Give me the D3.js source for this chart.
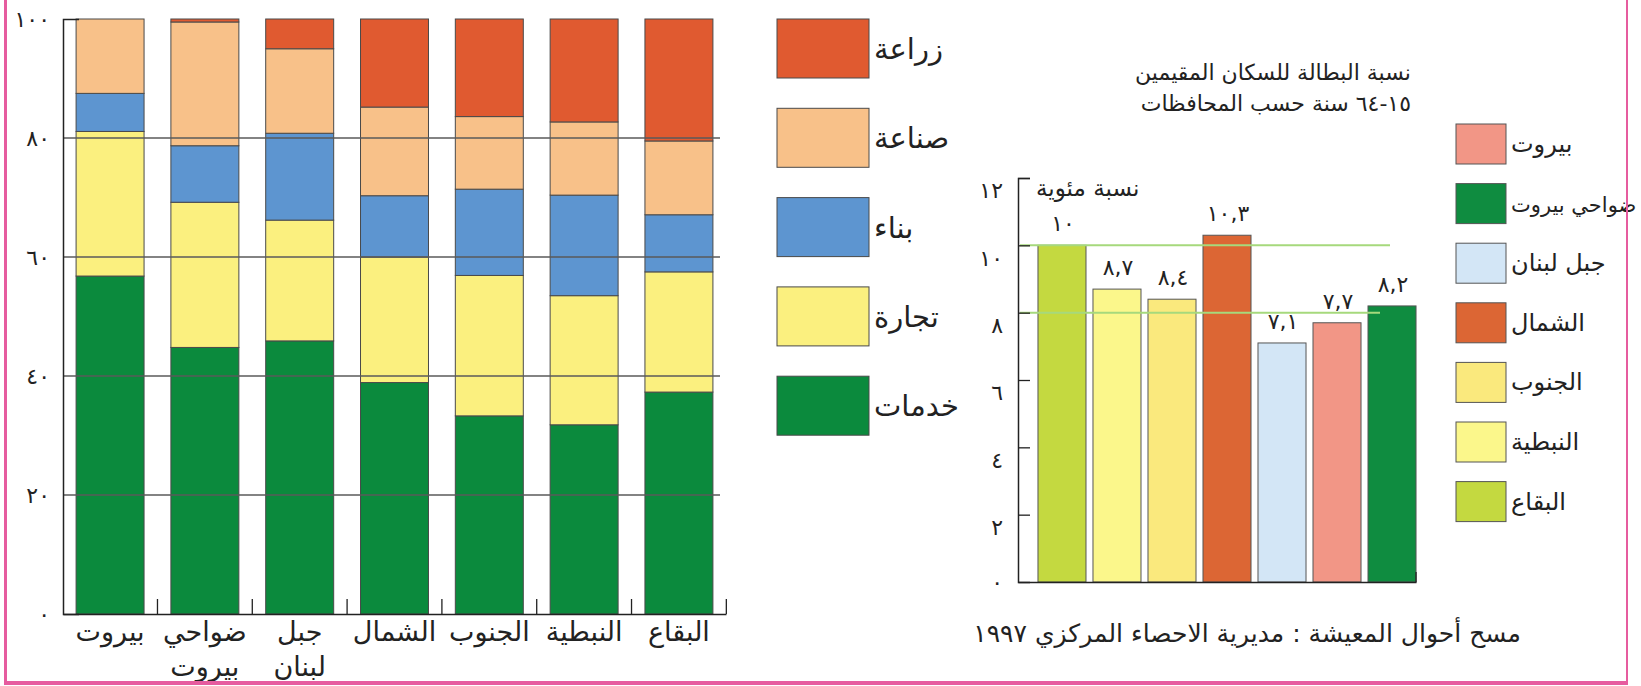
<!DOCTYPE html>
<html>
<head>
<meta charset="utf-8">
<script src="https://cdn.jsdelivr.net/npm/d3@7"></script>
<style>
  html, body { margin: 0; padding: 0; background: #ffffff; }
  svg { display: block; font-family: "DejaVu Sans", sans-serif; }
</style>
</head>
<body>
<svg id="chart" width="1641" height="686"></svg>
<script>
// ---------------- Data: left chart (employment by sector, %) ----------------
const regionsL = ["بيروت", "ضواحي بيروت", "جبل لبنان", "الشمال", "الجنوب", "النبطية", "البقاع"];
const regionLabelLines = [["بيروت"], ["ضواحي", "بيروت"], ["جبل", "لبنان"], ["الشمال"], ["الجنوب"], ["النبطية"], ["البقاع"]];
const sectorKeys = ["services", "commerce", "construction", "industry", "agriculture"];
const sectorNames = ["خدمات", "تجارة", "بناء", "صناعة", "زراعة"];
const services     = [56.8, 44.8, 45.9, 38.9, 33.3, 31.8, 37.3];
const commerce     = [24.3, 24.4, 20.3, 21.1, 23.6, 21.7, 20.2];
const construction = [6.4, 9.5, 14.6, 10.3, 14.5, 16.9, 9.6];
const industry     = [12.5, 20.8, 14.2, 14.9, 12.2, 12.3, 12.4];
const agriculture  = [0, 0.5, 5.0, 14.8, 16.4, 17.3, 20.5];
const leftTicks = [0, 20, 40, 60, 80, 100];
const legendOrderL = ["agriculture", "industry", "construction", "commerce", "services"];

// ---------------- Data: right chart (unemployment rate, %) ----------------
const regionsR = ["البقاع", "النبطية", "الجنوب", "الشمال", "جبل لبنان", "بيروت", "ضواحي بيروت"];
const unemployment = [10, 8.7, 8.4, 10.3, 7.1, 7.7, 8.2];
const rightTicks = [0, 2, 4, 6, 8, 10, 12];
const refLines = [10, 8];
const legendOrderR = ["بيروت", "ضواحي بيروت", "جبل لبنان", "الشمال", "الجنوب", "النبطية", "البقاع"];
const titleLines = ["نسبة البطالة للسكان المقيمين", "١٥-٦٤ سنة حسب المحافظات"];
const yUnitLabel = "نسبة مئوية";
const sourceText = "مسح أحوال المعيشة : مديرية الاحصاء المركزي ١٩٩٧";

// ---------------- Styles ----------------
const sectorColors = {
  services: "#0b8a3d", commerce: "#fbf07f", construction: "#5d95d0",
  industry: "#f8c189", agriculture: "#e05a30"
};
const regionColorsR = {
  "البقاع": "#c4d940", "النبطية": "#fbf78b", "الجنوب": "#fae97d", "الشمال": "#dc6634",
  "جبل لبنان": "#d3e6f6", "بيروت": "#f29686", "ضواحي بيروت": "#0f8c40"
};

const arabicDigits = "٠١٢٣٤٥٦٧٨٩";
const toArabic = v => String(v).replace(/[0-9]/g, d => arabicDigits[+d]).replace(".", ",");

const svg = d3.select("#chart");

// ================= LEFT CHART =================
const rows = regionsL.map((r, i) => ({
  region: r, services: services[i], commerce: commerce[i], construction: construction[i],
  industry: industry[i], agriculture: agriculture[i]
}));
const stack = d3.stack().keys(sectorKeys)(rows);

const yL = d3.scaleLinear().domain([0, 100]).range([614, 19]);
const xL = d3.scaleBand().domain(regionsL).range([63, 726]).paddingInner(0.283).paddingOuter(0.138);

const gL = svg.append("g");

gL.selectAll("g.layer").data(stack).join("g").attr("class", "layer")
  .attr("fill", d => sectorColors[d.key])
  .selectAll("rect").data(d => d).join("rect")
  .attr("x", d => xL(d.data.region))
  .attr("width", xL.bandwidth())
  .attr("y", d => yL(d[1]))
  .attr("height", d => Math.max(0, yL(d[0]) - yL(d[1])))
  .attr("stroke", "#4a4a4a").attr("stroke-width", 1);

// gridlines over bars
gL.selectAll("line.grid").data(leftTicks.filter(t => t > 0 && t < 100)).join("line")
  .attr("x1", 63).attr("x2", 720)
  .attr("y1", d => yL(d)).attr("y2", d => yL(d))
  .attr("stroke", "#5a5a5a").attr("stroke-width", 1.3);

// y axis
const yAxisL = d3.axisLeft(yL).tickValues(leftTicks).tickFormat(toArabic)
  .tickSizeInner(0).tickSizeOuter(-16).tickPadding(13);
const gyL = gL.append("g").attr("transform", "translate(63,0)").call(yAxisL);
gyL.select(".domain").attr("stroke", "#222").attr("stroke-width", 1.5);
gyL.selectAll("text").attr("font-size", 22).attr("fill", "#222")
  .attr("letter-spacing", 4)
  .attr("font-family", "DejaVu Sans, sans-serif");

// x axis
const xAxisL = d3.axisBottom(xL).tickFormat("").tickSize(0).tickSizeOuter(0);
const gxL = gL.append("g").attr("transform", "translate(0,614)").call(xAxisL);
gxL.select(".domain").attr("stroke", "#222").attr("stroke-width", 1.5);

// separator ticks between bars
const stepL = xL.step();
gL.selectAll("line.sep").data(regionsL).join("line")
  .attr("x1", d => xL(d) + xL.bandwidth() + (stepL - xL.bandwidth()) / 2)
  .attr("x2", d => xL(d) + xL.bandwidth() + (stepL - xL.bandwidth()) / 2)
  .attr("y1", 614).attr("y2", 599)
  .attr("stroke", "#222").attr("stroke-width", 1.3);

// category labels
regionsL.forEach((r, i) => {
  regionLabelLines[i].forEach((line, j) => {
    gL.append("text")
      .attr("x", xL(r) + xL.bandwidth() / 2)
      .attr("y", 641 + j * 35)
      .attr("text-anchor", "middle")
      .attr("font-size", 27).attr("fill", "#222")
      .text(line);
  });
});

// left legend
legendOrderL.forEach((k, i) => {
  const y0 = 19 + i * 89.3;
  svg.append("rect").attr("x", 777).attr("y", y0).attr("width", 92).attr("height", 59)
    .attr("fill", sectorColors[k]).attr("stroke", "#4a4a4a").attr("stroke-width", 1);
  svg.append("text").attr("x", 874).attr("y", y0 + 40).attr("text-anchor", "start")
    .attr("font-size", 29).attr("fill", "#222")
    .text(sectorNames[sectorKeys.indexOf(k)]);
});

// ================= RIGHT CHART =================
const yR = d3.scaleLinear().domain([0, 12]).range([582, 178]);
const xR = d3.scaleBand().domain(regionsR).range([1030, 1424]).paddingInner(0.127).paddingOuter(0.145);
const gR = svg.append("g");

// title
titleLines.forEach((t, i) => {
  gR.append("text").attr("x", 1411).attr("y", 80 + i * 31).attr("text-anchor", "end")
    .attr("font-size", 22).attr("fill", "#222").text(t);
});

// bars
const dataR = regionsR.map((r, i) => ({ region: r, value: unemployment[i] }));
gR.selectAll("rect.bar").data(dataR).join("rect")
  .attr("x", d => xR(d.region))
  .attr("width", xR.bandwidth())
  .attr("y", d => yR(d.value))
  .attr("height", d => yR(0) - yR(d.value))
  .attr("fill", d => regionColorsR[d.region])
  .attr("stroke", "#555").attr("stroke-width", 1);

// reference lines
gR.selectAll("line.ref").data(refLines).join("line")
  .attr("x1", 1020).attr("x2", (d, i) => i === 0 ? 1390 : 1380)
  .attr("y1", d => yR(d)).attr("y2", d => yR(d))
  .attr("stroke", "#a6d97c").attr("stroke-width", 2);

// y axis
const yAxisR = d3.axisLeft(yR).tickValues(rightTicks).tickFormat(toArabic)
  .tickSizeInner(-12).tickSizeOuter(-12).tickPadding(15);
const gyR = gR.append("g").attr("transform", "translate(1018,0)").call(yAxisR);
gyR.select(".domain").attr("stroke", "#222").attr("stroke-width", 1.5);
gyR.selectAll(".tick line").attr("stroke", "#222").attr("stroke-width", 1.3);
gyR.selectAll(".tick").filter(d => d === 0).select("line").remove();
gyR.selectAll("text").attr("font-size", 22).attr("fill", "#222")
  .attr("letter-spacing", 3)
  .attr("font-family", "DejaVu Sans, sans-serif")
  .attr("dy", d => d === 0 ? "0.32em" : "0.9em");

// x baseline with end tick
const xEnd = xR.range()[1] - xR.step() * xR.paddingOuter();
const gxR = gR.append("g").attr("transform", "translate(0,582)")
  .call(d3.axisBottom(d3.scaleLinear().domain([0, 1]).range([1018, xEnd])).ticks(0).tickSizeOuter(0));
gxR.select(".domain").attr("stroke", "#222").attr("stroke-width", 1.5);
gR.append("line").attr("x1", xEnd).attr("x2", xEnd).attr("y1", 582).attr("y2", 572)
  .attr("stroke", "#222").attr("stroke-width", 1.3);

// unit label
gR.append("text").attr("x", 1036).attr("y", 196).attr("text-anchor", "start")
  .attr("font-size", 23).attr("fill", "#222").text(yUnitLabel);

// value labels
gR.selectAll("text.val").data(dataR).join("text")
  .attr("x", d => xR(d.region) + xR.bandwidth() / 2 + 1)
  .attr("y", d => yR(d.value) - 14)
  .attr("text-anchor", "middle")
  .attr("font-size", 22).attr("letter-spacing", 2).attr("fill", "#222")
  .text(d => toArabic(d.value));

// right legend
legendOrderR.forEach((r, i) => {
  const y0 = 124 + i * 59.6;
  const long = r === "ضواحي بيروت";
  gR.append("rect").attr("x", 1456).attr("y", y0).attr("width", 50).attr("height", 40)
    .attr("fill", regionColorsR[r]).attr("stroke", "#555").attr("stroke-width", 1);
  gR.append("text").attr("x", 1511).attr("y", y0 + 28).attr("text-anchor", "start")
    .attr("font-size", long ? 21 : 24).attr("fill", "#222").text(r);
});

// source
svg.append("text").attr("x", 1521).attr("y", 642).attr("text-anchor", "end")
  .attr("font-size", 25).attr("fill", "#222").text(sourceText);

// pink frame
svg.append("line").attr("x1", 5.5).attr("x2", 5.5).attr("y1", 0).attr("y2", 685)
  .attr("stroke", "#e65c9f").attr("stroke-width", 3);
svg.append("line").attr("x1", 4).attr("x2", 1628).attr("y1", 683).attr("y2", 683)
  .attr("stroke", "#e65c9f").attr("stroke-width", 4);
svg.append("line").attr("x1", 1627).attr("x2", 1627).attr("y1", 0).attr("y2", 685)
  .attr("stroke", "#e65c9f").attr("stroke-width", 2);
</script>
</body>
</html>
